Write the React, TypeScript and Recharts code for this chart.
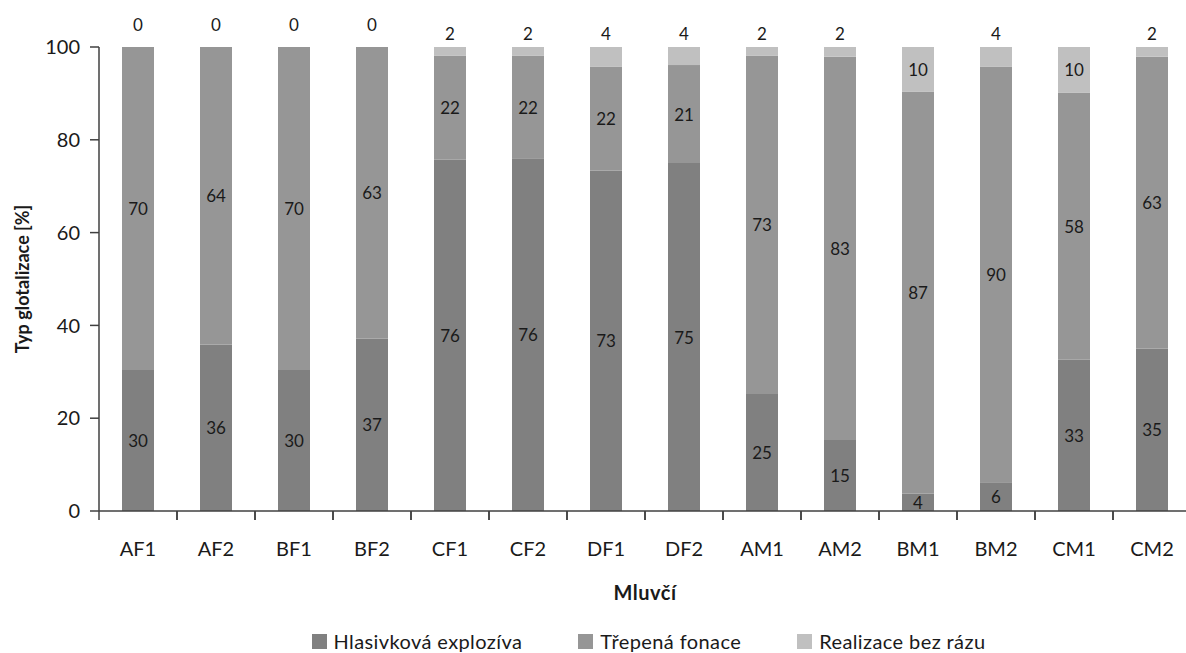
import React from 'react';
import { BarChart, Bar, XAxis, YAxis, Label, LabelList, Legend } from 'recharts';

const speakers = ['AF1', 'AF2', 'BF1', 'BF2', 'CF1', 'CF2', 'DF1', 'DF2', 'AM1', 'AM2', 'BM1', 'BM2', 'CM1', 'CM2'];
const explosive = [30.4, 35.9, 30.4, 37.2, 75.7, 76.0, 73.4, 75.0, 25.2, 15.3, 3.8, 6.2, 32.6, 35.0];
const creaky = [69.6, 64.1, 69.6, 62.8, 22.4, 22.1, 22.4, 21.1, 72.9, 82.6, 86.6, 89.6, 57.6, 62.9];
const noStop = [0, 0, 0, 0, 1.9, 1.9, 4.2, 3.9, 1.9, 2.1, 9.6, 4.2, 9.8, 2.1];
const yTicks = [0, 20, 40, 60, 80, 100];

const series = [
  { key: 'explosive', name: 'Hlasivková explozíva', color: '#808080' },
  { key: 'creaky', name: 'Třepená fonace', color: '#969696' },
  { key: 'noStop', name: 'Realizace bez rázu', color: '#c0c0c0' },
];

const data = speakers.map((s, i) => ({
  speaker: s,
  explosive: explosive[i],
  creaky: creaky[i],
  noStop: noStop[i],
}));

const FONT = 'Lato, "Open Sans", sans-serif';
const TEXT = '#1a1a1a';
const AXIS = '#404040';
const PLOT_TOP = 47;
const PLOT_BOTTOM = 511;

const valueText = (x: number, y: number, v: number) => (
  <text x={x} y={y} textAnchor="middle" dominantBaseline="central"
    fontSize={17} fontFamily={FONT} fill={TEXT}>
    {Math.round(v)}
  </text>
);

// value centred inside its segment
const centerLabel = (props: any) => {
  const { x, y, width, height, value } = props;
  return valueText(x + width / 2, y + height / 2, value);
};

// thin top segments get their value printed above the bar
const topLabel = (props: any) => {
  const { x, y, width, height, value } = props;
  if (!value) return null;
  const cy = value < 5 ? y - 14 : y + height / 2;
  return valueText(x + width / 2, cy, value);
};

// empty top segments have no rectangle, so their "0" hangs off the middle one
const emptyTopLabel = (props: any) => {
  const { x, y, width, index } = props;
  if (noStop[index] !== 0) return null;
  return valueText(x + width / 2, y - 23, noStop[index]);
};

// category label plus a tick mark on the band boundary
const CategoryTick = (props: any) => {
  const { x, y, payload } = props;
  const half = payload.offset ?? 39;
  return (
    <g>
      <line x1={x - half} x2={x - half} y1={y} y2={y + 9} stroke={AXIS} strokeWidth={1.5} />
      <line x1={x + half} x2={x + half} y1={y} y2={y + 9} stroke={AXIS} strokeWidth={1.5} />
      <text x={x} y={y + 37} textAnchor="middle" dominantBaseline="central"
        fontSize={20} fontFamily={FONT} fill={TEXT}>
        {payload.value}
      </text>
    </g>
  );
};

const LegendBox = () => (
  <div style={{ display: 'flex', justifyContent: 'center', gap: 56, fontFamily: FONT, fontSize: 20, letterSpacing: 0.4, color: TEXT, paddingLeft: 106, marginTop: 16 }}>
    {series.map((s) => (
      <div key={s.key} style={{ display: 'flex', alignItems: 'center' }}>
        <span style={{ width: 15, height: 15, background: s.color, display: 'inline-block', marginRight: 7 }} />
        <span>{s.name}</span>
      </div>
    ))}
  </div>
);

export default function App() {
  return (
    <div style={{ position: 'absolute', left: 0, top: 0, width: 1186, height: 653, overflow: 'hidden', background: '#fff' }}>
      <BarChart width={1200} height={653} data={data} margin={{ top: PLOT_TOP, right: 9, left: 0, bottom: 0 }} barSize={32}>
        <XAxis dataKey="speaker" height={102} tickSize={0} tickMargin={0} tickLine={false}
          axisLine={{ stroke: AXIS, strokeWidth: 1.5 }} tick={<CategoryTick />} interval={0}>
          <Label content={(p: any) => {
            const vb = p.viewBox;
            return (
              <text x={vb.x + vb.width / 2} y={PLOT_BOTTOM + 81} textAnchor="middle" dominantBaseline="central"
                fontSize={20} letterSpacing={0.5} fontWeight="bold" fontFamily={FONT} fill={TEXT}>Mluvčí</text>
            );
          }} />
        </XAxis>
        <YAxis width={99} domain={[0, 100]} ticks={yTicks} tickSize={9} tickMargin={10}
          axisLine={{ stroke: AXIS, strokeWidth: 1.5 }} tickLine={{ stroke: AXIS, strokeWidth: 1.5 }}
          tick={{ fontSize: 20, fontFamily: FONT, fill: TEXT }}>
          <Label content={() => {
            const cy = (PLOT_TOP + PLOT_BOTTOM) / 2;
            return (
              <text x={22} y={cy} transform={`rotate(-90, 22, ${cy})`} textAnchor="middle" dominantBaseline="central"
                fontSize={18} fontWeight="bold" fontFamily={FONT} fill={TEXT}>Typ glotalizace [%]</text>
            );
          }} />
        </YAxis>
        <Legend verticalAlign="bottom" height={40} content={<LegendBox />} />
        <Bar dataKey="explosive" name={series[0].name} stackId="a" fill={series[0].color} isAnimationActive={false}>
          <LabelList dataKey="explosive" content={centerLabel} />
        </Bar>
        <Bar dataKey="creaky" name={series[1].name} stackId="a" fill={series[1].color} isAnimationActive={false}>
          <LabelList dataKey="creaky" content={centerLabel} />
          <LabelList dataKey="creaky" content={emptyTopLabel} />
        </Bar>
        <Bar dataKey="noStop" name={series[2].name} stackId="a" fill={series[2].color} isAnimationActive={false}>
          <LabelList dataKey="noStop" content={topLabel} />
        </Bar>
      </BarChart>
    </div>
  );
}
